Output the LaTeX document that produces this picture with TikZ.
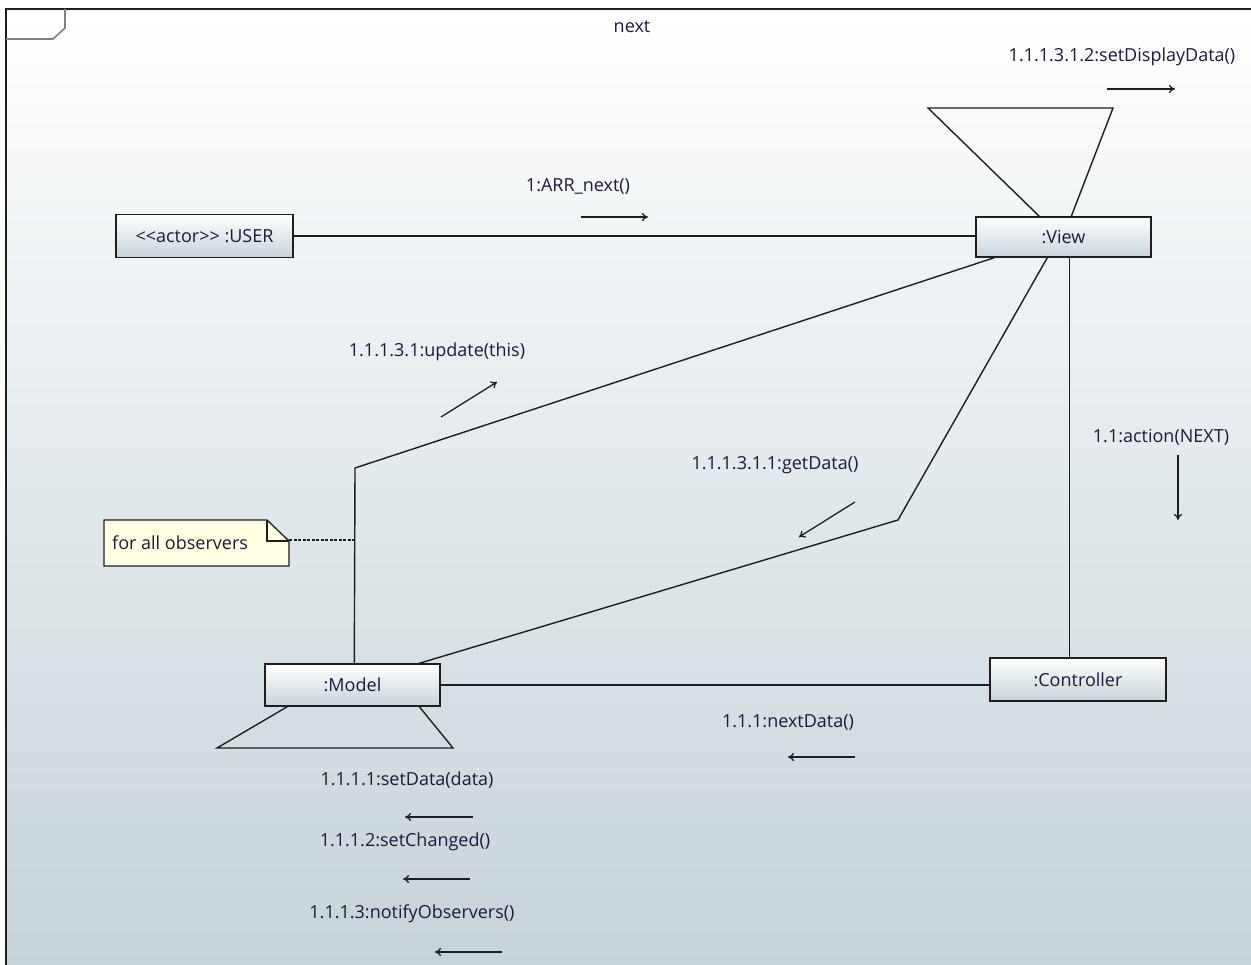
\documentclass[tikz,border=0pt]{standalone}
\usepackage{fontspec}
\setmainfont{Open Sans}
\usetikzlibrary{arrows.meta,calc}
\definecolor{txt}{RGB}{30,25,60}
\definecolor{bgbot}{RGB}{198,211,217}
\definecolor{boxbot}{RGB}{200,212,218}
\definecolor{notefill}{RGB}{255,255,228}
\definecolor{linec}{RGB}{30,30,30}
\tikzset{
  obj/.style={draw=linec, line width=1.4pt, top color=white, bottom color=boxbot, minimum height=40pt, text=txt, font=\fontsize{18}{21}\selectfont, inner sep=0pt},
  lbl/.style={text=txt, font=\fontsize{18}{21}\selectfont, inner sep=0pt},
  link/.style={draw=linec, line width=1.4pt},
  msg/.style={draw=linec, line width=1.3pt, -{To[length=6pt,width=8pt]}},
}
\begin{document}
\begin{tikzpicture}[x=1pt,y=-1pt]
\useasboundingbox (0,0) rectangle (1251,965);
\fill[white] (0,0) rectangle (1251,965);
\shade[top color=white, bottom color=bgbot] (6,9) rectangle (1251,965);
\draw[line width=1.6pt, draw=linec] (6,965) -- (6,9) -- (1251,9);
\draw[line width=1.6pt, draw=gray] (6,39) -- (53,39) -- (65,28) -- (65,9);
\node[lbl] (title) at (632,27) {next};

% objects
\node[obj, minimum width=177pt, minimum height=43pt] (user) at (204.5,236) {<{}<actor>{}> :USER};
\node[obj, minimum width=175pt] (view) at (1063.5,237) {:View};
\node[obj, minimum width=175pt, minimum height=42pt] (model) at (352.5,685) {:Model};
\node[obj, minimum width=176pt, minimum height=43pt] (ctrl) at (1078,679.5) {:Controller};

% note
\fill[notefill, draw=linec, line width=1.3pt] (104,520) -- (267,520) -- (289,541) -- (289,566) -- (104,566) -- cycle;
\draw[linec, line width=1.3pt] (267,520) -- (267,541) -- (289,541);
\node[lbl, anchor=west] (note) at (112,543) {for all observers};
\coordinate (noteR) at (289,540);

% links
\draw[link] (user.east) -- (user.east -| view.west);
\draw[link] ($(view.north west)+(64,0)$) -- (928,108) -- (1113,108) -- ($(view.north west)+(96,0)$);
\draw[link] ($(view.south west)+(94,0)$) -- ($(ctrl.north west)+(80,0)$);
\draw[link] ($(view.south west)+(19,0)$) -- (355,468) -- ($(model.north west)+(90,0)$);
\draw[link] ($(view.south west)+(72,0)$) -- (898,520) -- ($(model.north west)+(155,0)$);
\draw[link] (model.east) -- (ctrl.west |- model.east);
\draw[link] ($(model.south west)+(23,0)$) -- (217,748) -- (453,748) -- ($(model.south west)+(155,0)$);
\coordinate (noteEnd) at (355,540);
\draw[linec, line width=1.3pt, dash pattern=on 3pt off 1.5pt] (noteR) -- (noteEnd);

% messages
\node[lbl] (m1) at (1122,57) {1.1.1.3.1.2:setDisplayData()};
\draw[msg] (1107,89) -- (1175,89);
\node[lbl] (m2) at (578,186) {1:ARR\_next()};
\draw[msg] (581,217) -- (648,217);
\node[lbl] (m3) at (437,352) {1.1.1.3.1:update(this)};
\draw[msg] (441,417) -- (497,382);
\node[lbl] (m4) at (775,465) {1.1.1.3.1.1:getData()};
\draw[msg] (855,502) -- (799,537);
\node[lbl] (m5) at (1161,437) {1.1:action(NEXT)};
\draw[msg] (1178,455) -- (1178,520);
\node[lbl] (m6) at (788,722) {1.1.1:nextData()};
\draw[msg] (855,757) -- (788,757);
\node[lbl] (m7) at (407,780) {1.1.1.1:setData(data)};
\draw[msg] (473,817) -- (405,817);
\node[lbl] (m8) at (405,842) {1.1.1.2:setChanged()};
\draw[msg] (470,879) -- (403,879);
\node[lbl] (m9) at (412,914) {1.1.1.3:notifyObservers()};
\draw[msg] (502,952) -- (435,952);
\end{tikzpicture}
\end{document}
